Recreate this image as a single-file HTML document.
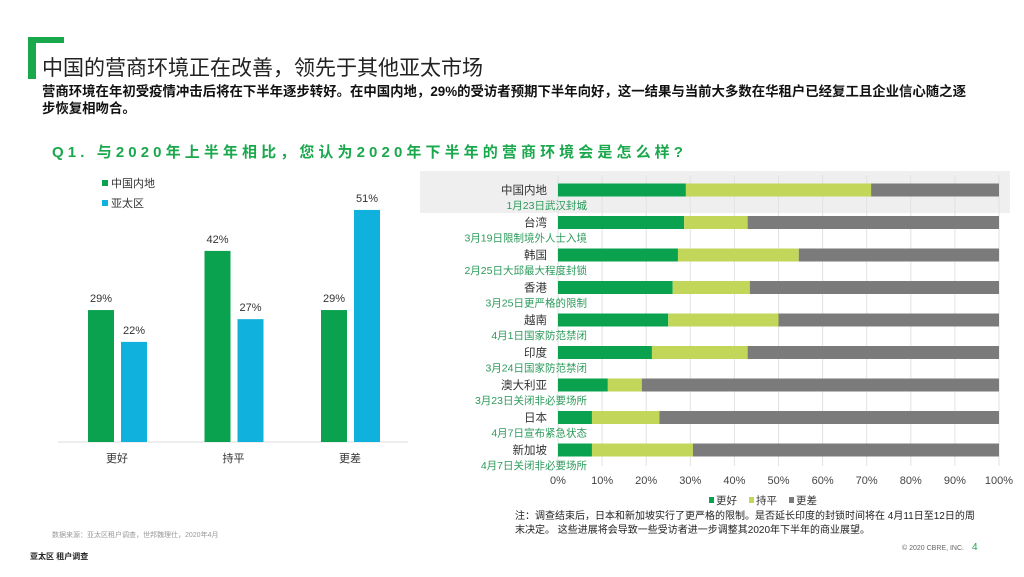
<!DOCTYPE html>
<html><head><meta charset="utf-8">
<style>
body{margin:0;width:1024px;height:577px;background:#fff;overflow:hidden;font-family:"Liberation Sans","Noto Sans CJK SC",sans-serif;position:relative}
.a{position:absolute;white-space:nowrap}
</style></head>
<body>
<div class="a" style="left:28px;top:37px;width:8px;height:42px;background:#1aa84c"></div>
<div class="a" style="left:28px;top:37px;width:36px;height:6px;background:#1aa84c"></div>
<div class="a" style="left:42px;top:56px;font-size:21px;line-height:26px;color:#222">中国的营商环境正在改善，领先于其他亚太市场</div>
<div class="a" style="left:42px;top:83px;font-size:13.4px;line-height:17px;color:#111;font-weight:bold;white-space:nowrap">营商环境在年初受疫情冲击后将在下半年逐步转好。在中国内地，29%的受访者预期下半年向好，这一结果与当前大多数在华租户已经复工且企业信心随之逐<br>步恢复相吻合。</div>
<div class="a" style="left:52px;top:141px;font-size:15px;color:#1aa84c;font-weight:bold;letter-spacing:4.1px">Q1. 与2020年上半年相比，您认为2020年下半年的营商环境会是怎么样?</div>
<svg class="a" style="left:0;top:0" width="1024" height="577" id="svg"></svg>
<div class="a" style="left:52px;top:530px;font-size:7px;color:#999">数据来源：亚太区租户调查，世邦魏理仕，2020年4月</div>
<div class="a" style="left:30px;top:551px;font-size:8px;color:#222;font-weight:bold">亚太区 租户调查</div>
<div class="a" style="left:515px;top:510px;font-size:10px;line-height:14px;color:#222;white-space:normal;width:462px">注：调查结束后，日本和新加坡实行了更严格的限制。是否延长印度的封锁时间将在 4月11日至12日的周末决定。 这些进展将会导致一些受访者进一步调整其2020年下半年的商业展望。</div>
<div class="a" style="left:902px;top:545px;font-size:7px;color:#666">© 2020 CBRE, INC.</div>
<div class="a" style="left:972px;top:542px;font-size:10px;color:#1aa84c">4</div>
<script>
const NS="http://www.w3.org/2000/svg";
const svg=document.getElementById('svg');
const barCats=['更好','持平','更差'];
const chinaVals=[29,42,29];
const apacVals=[22,27,51];
const countries=['中国内地','台湾','韩国','香港','越南','印度','澳大利亚','日本','新加坡'];
const notes=['1月23日武汉封城','3月19日限制境外人士入境','2月25日大邱最大程度封锁','3月25日更严格的限制','4月1日国家防范禁闭','3月24日国家防范禁闭','3月23日关闭非必要场所','4月7日宣布紧急状态','4月7日关闭非必要场所'];
const betterVals=[29,28.6,27.2,26,25,21.3,11.3,7.7,7.7];
const sameVals=[42,14.4,27.4,17.5,25,21.7,7.7,15.3,22.9];
const xTicks=[0,10,20,30,40,50,60,70,80,90,100];
function el(t,a,txt){const e=document.createElementNS(NS,t);for(const k in a)e.setAttribute(k,a[k]);if(txt!==undefined)e.textContent=txt;svg.appendChild(e);return e;}
const G='#0aa14f',B='#10b1dd',L='#c2d659',D='#7b7b7b',F='"Liberation Sans","Noto Sans CJK SC",sans-serif';
const base=442,sc=4.55;
const y1=v=>base-v*sc;
const gx=i=>117+i*116.5;
let e=el('line',{x1:58,x2:408,y1:base,y2:base,stroke:'#ddd'});

barCats.forEach((c,i)=>{
 [[chinaVals[i],G,-29],[apacVals[i],B,4]].forEach(([v,col,off],k)=>{
  let r=el('rect',{x:gx(i)+off,y:y1(v),width:26,height:v*sc,fill:col});
  
  
  let t=el('text',{x:gx(i)+off+13,y:y1(v)-8,'font-size':11,fill:'#333','text-anchor':'middle','font-family':F},v+'%');
  
  
 });
 let t=el('text',{x:gx(i),y:462,'font-size':11,fill:'#333','text-anchor':'middle','font-family':F},c);
 
 
});
[['中国内地',G,185],['亚太区',B,205]].forEach(([n,c,y])=>{
 let r=el('rect',{x:102,y:y-5,width:6,height:6,fill:c});
 
 let t=el('text',{x:111,y:y+2,'font-size':11,fill:'#333','font-family':F},n);
 
});
const x0=558,x1=999;
const xs=v=>x0+(x1-x0)*v/100;
const ry=i=>190+i*32.5;
let bg=el('rect',{x:420,y:171,width:590,height:42,fill:'#efefef'});

xTicks.forEach(v=>{
 let l=el('line',{x1:xs(v),x2:xs(v),y1:175,y2:466,stroke:'#e2e2e2'});
 
 let t=el('text',{x:xs(v),y:484,'font-size':11,fill:'#444','text-anchor':'middle','font-family':F},v+'%');
 
});
countries.forEach((c,i)=>{
 const y=ry(i),b=betterVals[i],s=sameVals[i];
 [[0,b,G,'better'],[b,s,L,'same'],[b+s,100-b-s,D,'worse']].forEach(([st,w,col,n])=>{
  let r=el('rect',{x:xs(st),y:y-6.5,width:xs(st+w)-xs(st),height:13,fill:col});
  
 });
 let t=el('text',{x:547,y:y+4,'font-size':11.5,fill:'#333','text-anchor':'end','font-family':F},c);
 
 let n=el('text',{x:587,y:y+19,'font-size':10.5,fill:'#2a9a5a','text-anchor':'end','font-family':F},notes[i]);
 
});
[['更好',G,709],['持平',L,749],['更差',D,789]].forEach(([n,c,x])=>{
 let r=el('rect',{x:x,y:497,width:5,height:6,fill:c});
 
 let t=el('text',{x:x+7,y:504,'font-size':10.5,fill:'#333','font-family':F},n);
 
});
</script>
</body></html>
